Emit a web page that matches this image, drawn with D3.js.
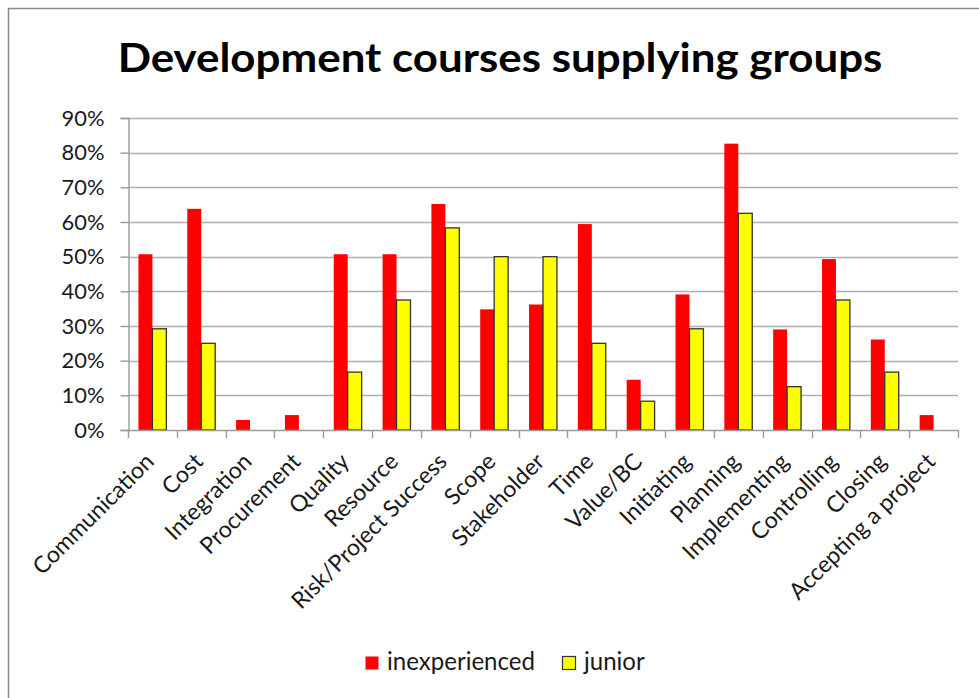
<!DOCTYPE html>
<html>
<head>
<meta charset="utf-8">
<script src="https://cdn.jsdelivr.net/npm/d3@7"></script>
<style>
  html, body { margin: 0; padding: 0; background: #fff; }
  svg { display: block; }
</style>
</head>
<body>
<svg id="chart" width="979" height="698"></svg>
<script>
const categories = ["Communication", "Cost", "Integration", "Procurement", "Quality", "Resource",
  "Risk/Project Success", "Scope", "Stakeholder", "Time", "Value/BC", "Initiating", "Planning",
  "Implementing", "Controlling", "Closing", "Accepting a project"];
const seriesNames = ["inexperienced", "junior"];
const inexperienced = [0.507, 0.638, 0.029, 0.043, 0.507, 0.507, 0.652, 0.348, 0.362, 0.594,
  0.145, 0.391, 0.826, 0.290, 0.493, 0.261, 0.043];
const junior = [0.292, 0.250, 0, 0, 0.167, 0.375, 0.583, 0.500, 0.500, 0.250,
  0.083, 0.292, 0.625, 0.125, 0.375, 0.167, 0];
const yTicks = [0, 0.1, 0.2, 0.3, 0.4, 0.5, 0.6, 0.7, 0.8, 0.9];
const title = "Development courses supplying groups";

const colors = ["#FF0000", "#FFFF00"];
const svg = d3.select("#chart");
const FONT = "Lato, 'Open Sans', sans-serif";

// outer chart frame (partially visible)
svg.append("path")
  .attr("d", "M8.5,698 L8.5,8.5 L979,8.5")
  .attr("fill", "none").attr("stroke", "#8a8a8a").attr("stroke-width", 1.5);

const x = d3.scaleBand().domain(categories).range([128, 958]).paddingInner(0).paddingOuter(0);
const y = d3.scaleLinear().domain([0, 0.9]).range([430, 118]);
const bw = x.bandwidth() / 3.5;
const xs = d3.scaleBand().domain(seriesNames).range([0, 2 * bw]);

// title: taller glyphs, compressed horizontally to the reference width
const tg = svg.append("g");
const t = tg.append("text")
  .attr("x", 0).attr("y", 0)
  .attr("text-anchor", "middle")
  .attr("font-family", FONT).attr("font-weight", "bold")
  .attr("font-size", 41).attr("fill", "#000")
  .text(title);
{
  const w = t.node().getComputedTextLength();
  tg.attr("transform", `translate(500,72) scale(${765 / w},1)`);
}

// gridlines
svg.append("g").selectAll("line").data(yTicks.slice(1)).join("line")
  .attr("x1", 128).attr("x2", 958)
  .attr("y1", d => Math.round(y(d)) + 0.5).attr("y2", d => Math.round(y(d)) + 0.5)
  .attr("stroke", "#b0b0b0").attr("stroke-width", 1.4);

// y axis
const yAxis = svg.append("g").attr("transform", "translate(128.5,0)")
  .call(d3.axisLeft(y).tickValues(yTicks).tickSize(8).tickPadding(16)
    .tickFormat(d => Math.round(d * 100) + "%"));
yAxis.select(".domain").attr("stroke", "#9a9a9a").attr("stroke-width", 1.4);
yAxis.selectAll(".tick line").attr("stroke", "#9a9a9a").attr("stroke-width", 1.4);
yAxis.selectAll(".tick text").attr("font-family", FONT).attr("font-size", 20).attr("fill", "#1a1a1a");
{
  const s = yAxis.select(".tick:last-of-type text");
  const w = s.node().getComputedTextLength();
  yAxis.selectAll(".tick text").attr("font-size", 20 * 43 / w);
}

// bars
const groups = svg.append("g").selectAll("g").data(categories).join("g")
  .attr("transform", d => `translate(${x(d) + (x.bandwidth() - 2 * bw) / 2},0)`);
groups.selectAll("rect").data((d, i) => [
  { s: "inexperienced", v: inexperienced[i] },
  { s: "junior", v: junior[i] }
].filter(e => e.v > 0)).join("rect")
  .attr("x", e => xs(e.s))
  .attr("width", xs.bandwidth())
  .attr("y", e => y(e.v))
  .attr("height", e => y(0) - y(e.v))
  .attr("fill", e => colors[seriesNames.indexOf(e.s)])
  .attr("stroke", e => e.s === "junior" ? "#333" : "none")
  .attr("stroke-width", 1.3);

// x axis
const boundaries = categories.map(c => x(c)).concat([x.range()[1]]);
svg.append("line").attr("x1", 128).attr("x2", 958).attr("y1", 430.5).attr("y2", 430.5)
  .attr("stroke", "#9a9a9a").attr("stroke-width", 1.4);
svg.append("g").selectAll("line").data(boundaries).join("line")
  .attr("x1", d => Math.round(d) + 0.5).attr("x2", d => Math.round(d) + 0.5)
  .attr("y1", 430).attr("y2", 438)
  .attr("stroke", "#9a9a9a").attr("stroke-width", 1.4);

const xl = svg.append("g").selectAll("text").data(categories).join("text")
  .attr("transform", d => `translate(${x(d) + x.bandwidth() / 2 + 3},463) rotate(-45)`)
  .attr("text-anchor", "end")
  .attr("font-family", FONT).attr("font-size", 20).attr("fill", "#1a1a1a")
  .text(d => d);
{
  const w = xl.filter(d => d === "Communication").node().getComputedTextLength();
  xl.attr("font-size", 20 * 160 / w);
}

// legend
const leg = svg.append("g");
const legX = [365, 562];
seriesNames.forEach((s, i) => {
  leg.append("rect").attr("x", legX[i] + 0.5).attr("y", 656.5).attr("width", 13).attr("height", 13)
    .attr("fill", colors[i]).attr("stroke", i === 1 ? "#333" : "none").attr("stroke-width", 1.2);
  const lt = leg.append("text").attr("x", legX[i] + 22).attr("y", 670)
    .attr("font-family", FONT).attr("font-size", 20).attr("fill", "#1a1a1a").text(s);
  if (i === 0) {
    const w = lt.node().getComputedTextLength();
    leg.attr("data-fs", 20 * 148 / w);
  }
});
leg.selectAll("text").attr("font-size", +leg.attr("data-fs"));
</script>
</body>
</html>
